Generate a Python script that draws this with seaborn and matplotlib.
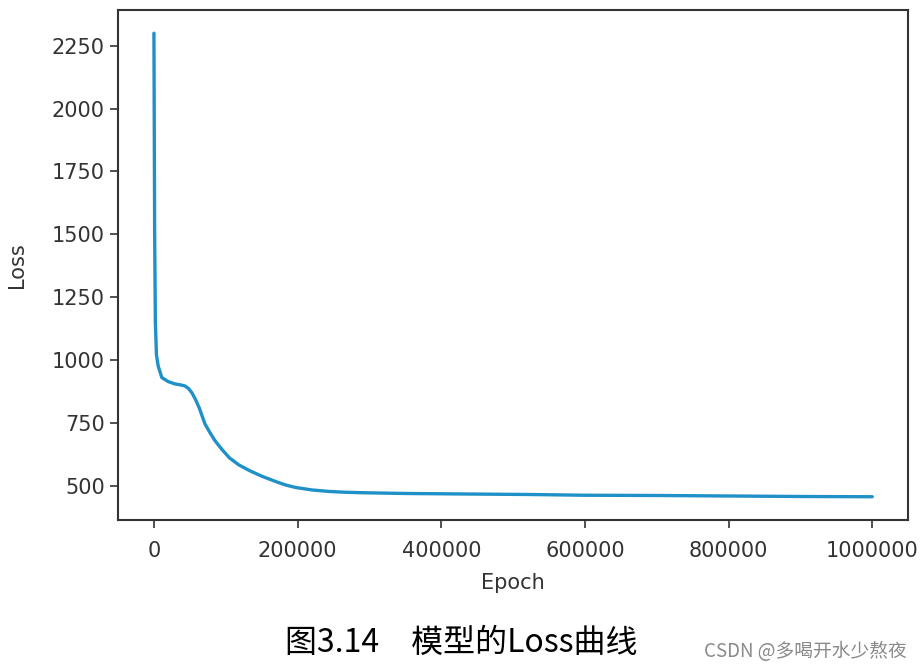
import pandas as pd
import numpy as np
import matplotlib.pyplot as plt
import seaborn as sns

# values
epoch = [0, 1000, 2000, 3500, 6000, 11000, 20000, 29000, 37000, 43000, 48000,
         53000, 58000, 63000, 67000, 71000, 78000, 85000, 95000, 105000,
         118000, 133000, 150000, 169000, 183000, 197000, 220000, 244000,
         265000, 290000, 350000, 430000, 520000, 600000, 700000, 800000,
         900000, 1000000]
loss = [2300, 1500, 1150, 1020, 975, 930, 914, 905, 901, 897, 887,
        869, 842, 810, 778, 746, 711, 679, 643, 611,
        583, 560, 538, 517, 503, 493, 483, 477,
        474, 472, 469, 467, 465, 462, 461, 459,
        457, 456]
x_ticks = [0, 200000, 400000, 600000, 800000, 1000000]
y_ticks = [500, 750, 1000, 1250, 1500, 1750, 2000, 2250]
caption = "图3.14　模型的Loss曲线"
watermark = "CSDN @多喝开水少熬夜"

df = pd.DataFrame({"Epoch": epoch, "Loss": loss})

sns.set_theme(style="ticks", rc={
    "axes.edgecolor": "#333333",
    "axes.linewidth": 1.5,
    "xtick.color": "#333333",
    "ytick.color": "#333333",
    "xtick.major.size": 6,
    "ytick.major.size": 6,
    "xtick.major.width": 1.2,
    "ytick.major.width": 1.2,
})
plt.rcParams['font.family'] = ['DejaVu Sans', 'Noto Sans CJK SC']

fig = plt.figure(figsize=(9.22, 6.70), dpi=100)
ax = fig.add_axes([0.128, 0.224, 0.857, 0.761])
sns.lineplot(data=df, x="Epoch", y="Loss", ax=ax, color="#2090c8", linewidth=2.4)
ax.set_xticks(x_ticks)
ax.set_yticks(y_ticks)
ax.ticklabel_format(style="plain", useOffset=False)
ax.tick_params(axis="both", labelsize=15, labelcolor="#333333")
ax.tick_params(axis="x", pad=9)
ax.set_xlabel("Epoch", fontsize=15, color="#333333", labelpad=9)
ax.set_ylabel("Loss", fontsize=15, color="#333333", labelpad=18)
ax.margins(x=0.05, y=0.05)
for s in ax.spines.values():
    s.set_visible(True)

fig.text(0.5, 0.04, caption, ha="center", va="center", fontsize=23,
         color="black", family=['Noto Sans CJK SC', 'DejaVu Sans'])
fig.text(0.983, 0.028, watermark, ha="right", va="center", fontsize=13.5,
         color="#8a8a8a", family=['Noto Sans CJK SC', 'DejaVu Sans'])

fig.savefig("out.png", dpi=100)
